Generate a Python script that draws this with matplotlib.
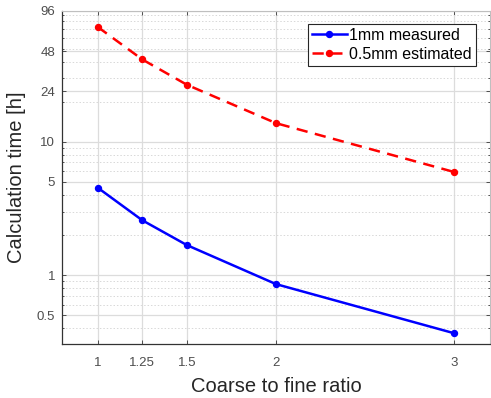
import matplotlib
matplotlib.use('Agg')
import matplotlib.pyplot as plt
from matplotlib.ticker import FixedLocator, FixedFormatter, LogLocator, NullFormatter

plt.rcParams['font.family'] = ['Liberation Sans', 'DejaVu Sans']

# data
ratio = [1, 1.25, 1.5, 2, 3]
time_1mm = [4.53, 2.58, 1.68, 0.856, 0.366]
time_05mm = [72.8, 41.5, 26.8, 13.8, 5.93]
xtick_vals = [1, 1.25, 1.5, 2, 3]
xtick_labels = ['1', '1.25', '1.5', '2', '3']
ytick_vals = [0.5, 1, 5, 10, 24, 48, 96]
ytick_labels = ['0.5', '1', '5', '10', '24', '48', '96']

fig = plt.figure(figsize=(4.91, 3.98), dpi=100)
ax = fig.add_axes([0.1263, 0.135, 0.872, 0.8376])

ax.plot(ratio, time_1mm, '-o', color=(0, 0, 1), lw=1.8, ms=4.3,
        label='1mm measured')
ax.plot(ratio, time_05mm, 'o', color=(1, 0, 0), lw=1.8, ms=4.3,
        ls=(0, (4.5, 3)), label='0.5mm estimated')

ax.set_yscale('log')
ax.set_xlim(0.8, 3.2)
ax.set_ylim(0.303, 96)

ax.xaxis.set_major_locator(FixedLocator(xtick_vals))
ax.xaxis.set_major_formatter(FixedFormatter(xtick_labels))
ax.yaxis.set_major_locator(FixedLocator(ytick_vals))
ax.yaxis.set_major_formatter(FixedFormatter(ytick_labels))
ax.yaxis.set_minor_locator(LogLocator(base=10, subs=range(2, 10)))
ax.yaxis.set_minor_formatter(NullFormatter())

ax.grid(True, which='major', color='#dcdcdc', lw=0.9, ls='-')
ax.grid(True, which='minor', axis='y', color='#d8d8d8', lw=0.7, ls=(0, (1.5, 2)))
ax.set_axisbelow(True)

ax.tick_params(which='both', direction='in', top=True, right=True,
               labelsize=9.5, colors='#4d4d4d', length=3, width=0.7)
ax.tick_params(axis='x', pad=9)
ax.tick_params(axis='y', pad=5)
ax.tick_params(which='minor', length=1.5)
for side in ['left', 'bottom']:
    ax.spines[side].set_color('#333333')
    ax.spines[side].set_linewidth(0.9)
for side in ['top', 'right']:
    ax.spines[side].set_color('#bfbfbf')
    ax.spines[side].set_linewidth(0.8)

ax.set_xlabel('Coarse to fine ratio', fontsize=14.5, color='#262626', labelpad=6)
ax.set_ylabel('Calculation time [h]', fontsize=14.5, color='#262626', labelpad=8)

leg = ax.legend(loc='upper right', fontsize=11.5, frameon=True, fancybox=False,
                borderpad=0.25, handlelength=2.2, handletextpad=0.15,
                labelspacing=0.25, bbox_to_anchor=(0.985, 0.985))
leg.get_frame().set_edgecolor('#262626')
leg.get_frame().set_linewidth(0.8)
leg.get_frame().set_alpha(1)

fig.savefig('out.png', dpi=100)
